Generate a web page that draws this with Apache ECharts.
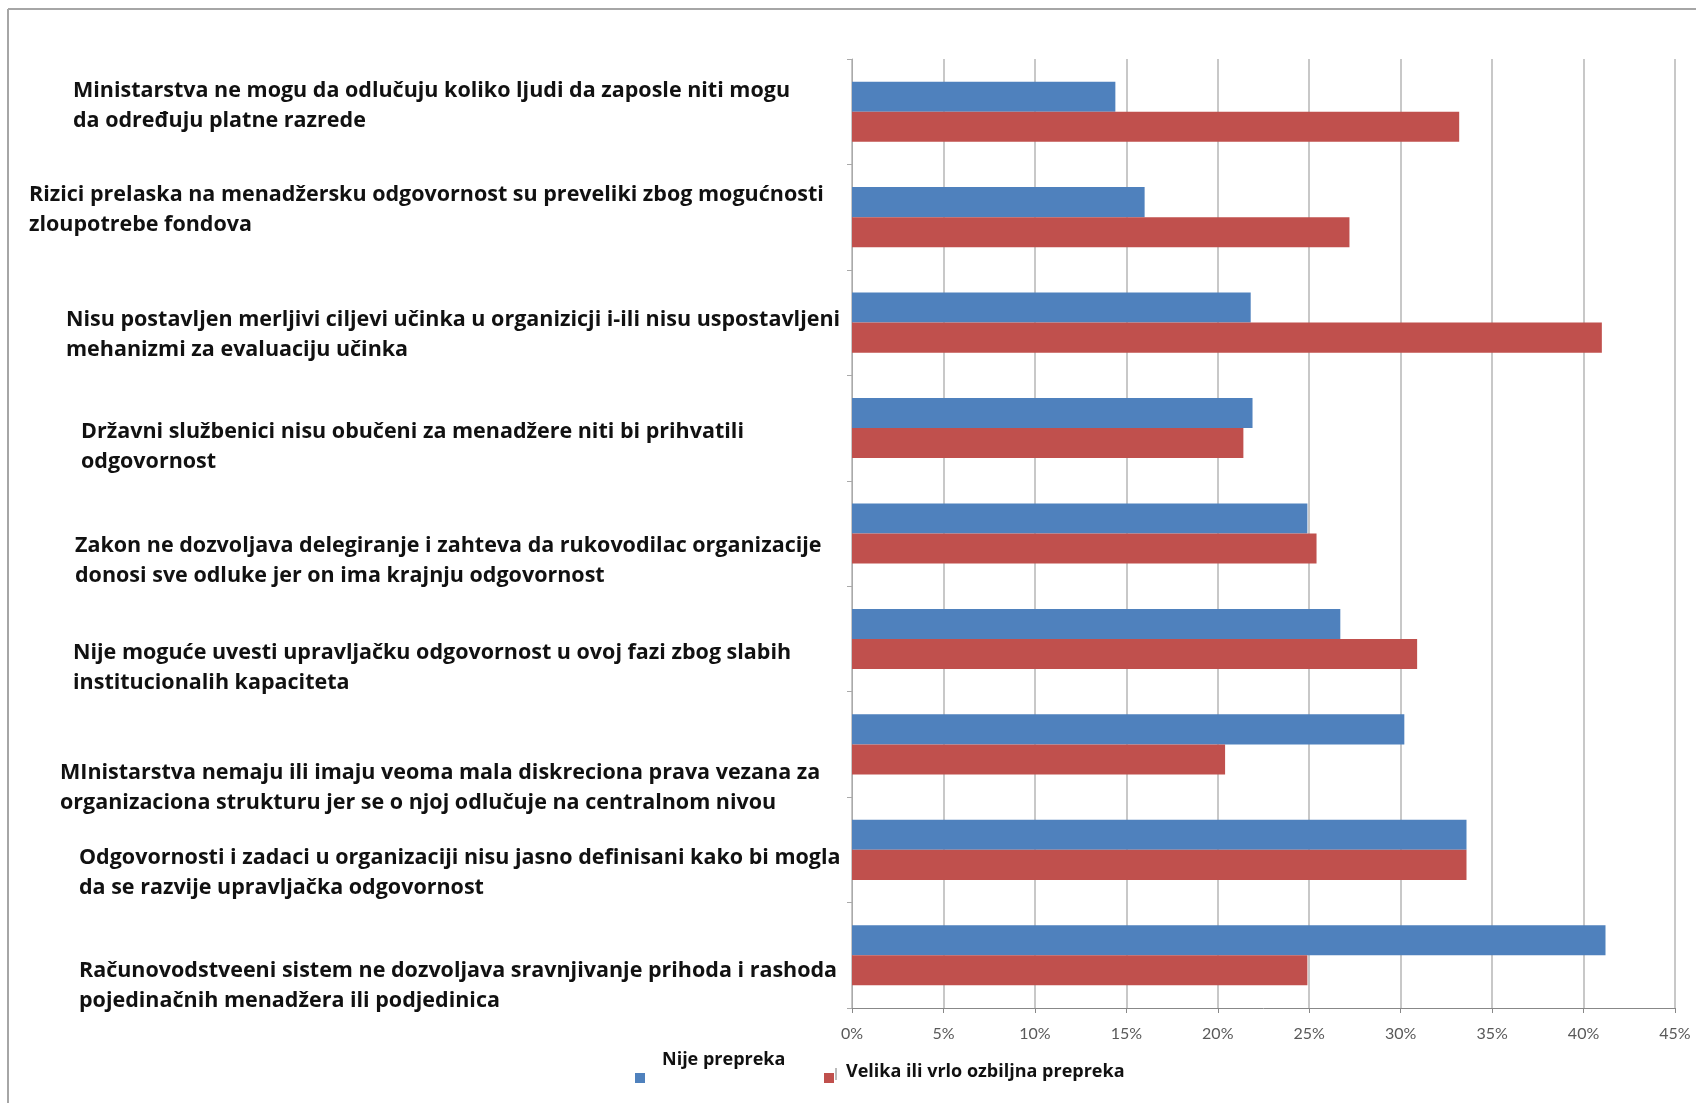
<!DOCTYPE html>
<html>
<head>
<meta charset="utf-8">
<script src="https://cdn.jsdelivr.net/npm/echarts@6/dist/echarts.min.js"></script>
<style>
html,body{margin:0;padding:0;background:#fff;}
#chart{width:1696px;height:1103px;}
</style>
</head>
<body>
<div id="chart"></div>
<script>
const categories = [
  'Ministarstva ne mogu da odlučuju koliko ljudi da zaposle niti mogu\nda određuju platne razrede',
  'Rizici prelaska na menadžersku odgovornost su preveliki zbog mogućnosti\nzloupotrebe fondova',
  'Nisu postavljen merljivi ciljevi učinka u organizicji i-ili nisu uspostavljeni\nmehanizmi za evaluaciju učinka',
  'Državni službenici nisu obučeni za menadžere niti bi prihvatili\nodgovornost',
  'Zakon ne dozvoljava delegiranje i zahteva da rukovodilac organizacije\ndonosi sve odluke jer on ima krajnju odgovornost',
  'Nije moguće uvesti upravljačku odgovornost u ovoj fazi zbog slabih\ninstitucionalih kapaciteta',
  'MInistarstva nemaju ili imaju veoma mala diskreciona prava vezana za\norganizaciona strukturu jer se o njoj odlučuje na centralnom nivou',
  'Odgovornosti i zadaci u organizaciji nisu jasno definisani kako bi mogla\nda se razvije upravljačka odgovornost',
  'Računovodstveeni sistem ne dozvoljava sravnjivanje prihoda i rashoda\npojedinačnih menadžera ili podjedinica'
];
const seriesNames = ['Nije prepreka', 'Velika ili vrlo ozbiljna prepreka'];
const nijePrepreka   = [14.4, 16.0, 21.8, 21.9, 24.9, 26.7, 30.2, 33.6, 41.2];
const velikaPrepreka = [33.2, 27.2, 41.0, 21.4, 25.4, 30.9, 20.4, 33.6, 24.9];
const xMin = 0, xMax = 45, xStep = 5;

// label layout (offsets, not data)
const labelLeft = [73, 29, 66, 81, 75, 73, 60, 79, 79];
const labelDy   = [-6, -7, 12, 19, 27, 29, 43, 23, 31];

const chart = echarts.init(document.getElementById('chart'));
const FONT = '"Open Sans"';
chart.setOption({
  animation: false,
  backgroundColor: '#fff',
  grid: { left: 852, right: 21, top: 59, bottom: 95, containLabel: false },
  xAxis: {
    type: 'value', min: xMin, max: xMax, interval: xStep,
    axisLine: { show: true, lineStyle: { color: '#888', width: 1 } },
    axisTick: { show: true, length: 5, lineStyle: { color: '#888' } },
    splitLine: { show: true, lineStyle: { color: '#c8c8c8', width: 2 } },
    axisLabel: { formatter: '{value}%', color: '#595959', fontFamily: 'Lato', fontSize: 16, margin: 18 }
  },
  yAxis: {
    type: 'category', data: categories, inverse: true,
    axisLine: { show: true, lineStyle: { color: '#aaa', width: 1 } },
    axisTick: { show: true, length: 5, lineStyle: { color: '#aaa' } },
    axisLabel: { show: false },
    splitLine: { show: false }
  },
  legend: [
    { data: [seriesNames[0]], left: 630, top: 1068, itemWidth: 10, itemHeight: 10, icon: 'rect',
      formatter: () => '', textStyle: { fontSize: 8 } },
    { data: [seriesNames[1]], left: 819, top: 1068, itemWidth: 10, itemHeight: 10, icon: 'rect',
      formatter: () => '', textStyle: { fontSize: 8 } }
  ],
  series: [
    { name: seriesNames[0], type: 'bar', data: nijePrepreka, barGap: '0%', barCategoryGap: '43%',
      itemStyle: { color: '#4F81BD' } },
    { name: seriesNames[1], type: 'bar', data: velikaPrepreka, barGap: '0%', barCategoryGap: '43%',
      itemStyle: { color: '#C0504D' } }
  ]
});

const g = [
  { type: 'line', shape: { x1: 8, y1: 9, x2: 1696, y2: 9 }, style: { stroke: '#a6a6a6', lineWidth: 2 } },
  { type: 'line', shape: { x1: 8, y1: 9, x2: 8, y2: 1103 }, style: { stroke: '#a6a6a6', lineWidth: 2 } },
  { type: 'line', shape: { x1: 836, y1: 1068, x2: 836, y2: 1080 }, style: { stroke: '#777', lineWidth: 1 } },
  { type: 'text', left: 662, top: 1051,
    style: { text: seriesNames[0], fontFamily: FONT, fontWeight: 'bold', fontSize: 18, fill: '#111' } },
  { type: 'text', left: 846, top: 1063,
    style: { text: seriesNames[1], fontFamily: FONT, fontWeight: 'bold', fontSize: 18, fill: '#111' } }
];
categories.forEach((c, i) => {
  const y = chart.convertToPixel({ yAxisIndex: 0 }, i);
  g.push({
    type: 'text', left: labelLeft[i], top: y + labelDy[i] - 30,
    style: { text: c, fontFamily: FONT, fontWeight: 'bold', fontSize: 21.5, lineHeight: 30, fill: '#111' }
  });
});
chart.setOption({ graphic: g });
</script>
</body>
</html>
